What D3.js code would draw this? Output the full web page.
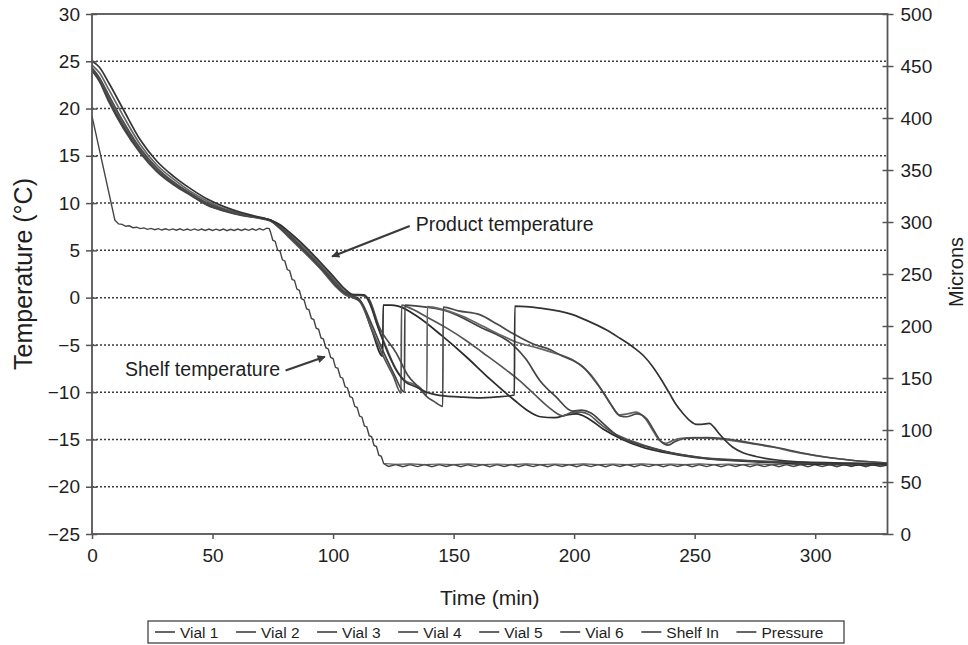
<!DOCTYPE html>
<html><head><meta charset="utf-8">
<script src="https://cdn.jsdelivr.net/npm/d3@7"></script>
<style>
body{margin:0;background:#fff}
text{font-family:"Liberation Sans",Arial,Helvetica,sans-serif;fill:#1e1e1e}
</style>
</head><body>
<svg id="chart" width="968" height="645"></svg>
<script>
// ---------------- DATA ----------------
const timeTicks = [0, 50, 100, 150, 200, 250, 300];
const tempTicks = [-25, -20, -15, -10, -5, 0, 5, 10, 15, 20, 25, 30];
const gridTemps = [-20, -15, -10, -5, 0, 5, 10, 15, 20, 25];
const micronTicks = [0, 50, 100, 150, 200, 250, 300, 350, 400, 450, 500];
const legendNames = ["Vial 1", "Vial 2", "Vial 3", "Vial 4", "Vial 5", "Vial 6", "Shelf In", "Pressure"];

const vial1 = [[0,24.1],[3,23.0],[7,20.9],[13,18.1],[20,15.5],[27,13.4],[34,12.0],[41,10.9],[48,9.8],[55,9.2],[62,8.75],[68,8.5],[74,8.2],[78,7.4],[82,6.4],[86,5.4],[90,4.4],[96,2.8],[101,1.3],[105,0.4],[108,0.1],[110,0.0],[112,-0.6],[116,-3.4],[120.6,-6.2],
  [120.8,-0.8],[124,-0.8],[127,-0.9],[135,-2.0],[145,-4.0],[155,-6.2],[165,-8.6],[175,-10.8],[181,-12.0],[186,-12.6],[192,-12.7],[197,-12.4],[201,-12.3],[206,-12.8],[212,-13.9],[220,-15.0],[228,-15.8],[238,-16.4],[250,-16.9],[270,-17.3],[300,-17.6],[330,-17.7]];
const vial2 = [[0,24.2],[3,23.2],[7,21.1],[13,18.3],[20,15.6],[27,13.5],[34,12.1],[41,10.95],[48,9.9],[55,9.25],[62,8.8],[68,8.5],[74,8.15],[78,7.3],[82,6.3],[86,5.3],[90,4.3],[96,2.7],[101,1.2],[105,0.3],[108,0.0],[111,-0.4],[116,-3.3],[121,-6.3],[125,-8.3],[128.2,-10.1],
  [128.4,-0.8],[131,-1.0],[140,-2.2],[147,-3.2],[155,-4.5],[162,-5.8],[170,-7.3],[177,-8.7],[183,-10.1],[189,-11.5],[195.3,-12.5],[199.4,-12.1],[203,-12.1],[206.4,-12.4],[210.5,-13.3],[216,-14.3],[223,-15.1],[230,-15.7],[240,-16.4],[252,-16.9],[270,-17.2],[300,-17.5],[330,-17.6]];
const vial3 = [[0,24.0],[3,22.9],[7,20.7],[13,17.9],[20,15.3],[27,13.3],[34,11.9],[41,10.8],[48,9.75],[55,9.15],[62,8.7],[68,8.45],[74,8.1],[78,7.35],[82,6.5],[86,5.5],[90,4.5],[96,2.9],[101,1.4],[105,0.5],[108,0.2],[112,-0.6],[116,-2.8],[121,-5.8],[125.5,-8.2],[129.6,-10.0],
  [129.8,-0.8],[135,-0.9],[147,-1.4],[161,-3.1],[174.6,-5.0],[180,-6.5],[185.6,-8.7],[192.5,-10.5],[199.4,-12.0],[203,-11.9],[207,-12.2],[212,-13.3],[218,-14.6],[225,-15.4],[232,-15.9],[242,-16.5],[255,-17.0],[275,-17.3],[300,-17.5],[330,-17.6]];
const vial4 = [[0,24.6],[3,23.8],[7,22.0],[13,19.2],[20,16.2],[27,14.0],[34,12.5],[41,11.2],[48,10.2],[55,9.4],[62,8.9],[68,8.5],[74,8.2],[78,7.6],[82,6.8],[86,5.8],[90,4.8],[96,3.2],[101,1.8],[105,0.8],[108,0.3],[112,0.25],[115,-0.3],[118,-2.6],[122,-5.2],[126,-7.5],[130,-8.8],[133,-9.1],[136,-9.5],[138.9,-10.3],
  [139.1,-0.95],[145,-1.2],[154,-2.0],[162,-3.0],[170,-4.0],[176,-4.7],[183,-5.2],[191,-5.8],[199.4,-6.6],[203,-7.2],[206.4,-8.0],[210,-9.2],[213.3,-10.5],[216,-11.6],[218.8,-12.4],[222,-12.3],[225.7,-12.1],[229.9,-12.9],[233,-14.2],[235.4,-15.1],[238.1,-15.4],[241,-15.1],[243.6,-14.9],[250,-14.8],[257.5,-14.9],[265,-15.1],[275,-15.5],[282.3,-15.8],[293,-16.4],[303,-16.8],[315,-17.2],[330,-17.5]];
const vial5 = [[0,24.3],[3,23.3],[7,21.4],[13,18.6],[20,15.8],[27,13.7],[34,12.2],[41,11.0],[48,10.0],[55,9.3],[62,8.8],[68,8.5],[74,8.2],[78,7.5],[82,6.6],[86,5.6],[90,4.6],[96,3.0],[101,1.6],[105,0.6],[108,0.25],[113,0.2],[115,-0.2],[119,-3.0],[126.3,-5.9],[131,-8.2],[135.9,-9.6],[139,-10.5],[142,-11.0],[145.5,-11.5],
  [145.7,-1.0],[152,-1.4],[160.8,-1.8],[168,-2.8],[174.6,-3.8],[183,-4.9],[190,-5.5],[195.3,-6.2],[200,-6.7],[204,-7.4],[208,-8.6],[212,-10.0],[215,-11.2],[219,-12.5],[222,-12.6],[226,-12.3],[230,-12.8],[233,-14.0],[236,-15.2],[239,-15.6],[242,-15.2],[246,-14.9],[255,-14.8],[262,-14.9],[272,-15.3],[285,-15.9],[300,-16.7],[315,-17.2],[330,-17.5]];
const vial6 = [[0,25.0],[3,24.4],[7,22.7],[13,19.9],[20,16.7],[27,14.4],[34,12.8],[41,11.5],[48,10.4],[55,9.6],[62,9.0],[68,8.6],[74,8.2],[78,7.7],[82,6.9],[86,6.0],[90,5.0],[96,3.4],[101,2.0],[105,0.9],[108,0.35],[113,0.3],[115,-0.5],[119,-3.4],[123,-6.0],[127,-8.0],[130,-8.9],[134,-9.4],[140,-10.1],[146,-10.4],[152,-10.5],[160,-10.6],[168,-10.5],[175.2,-10.3],
  [175.4,-0.9],[185.6,-1.1],[199.4,-1.8],[206,-2.5],[213.3,-3.4],[219,-4.3],[224.3,-5.2],[229,-6.2],[232.6,-7.3],[236,-8.6],[239.5,-10.1],[242,-11.2],[245,-12.2],[248,-13.0],[250.6,-13.4],[253,-13.4],[256.1,-13.3],[258,-13.7],[260.2,-14.4],[265.7,-15.8],[270,-16.4],[275.4,-16.8],[285,-17.2],[296.1,-17.4],[315,-17.5],[330,-17.6]];

const shelfIn = [[0,19.2],[9.5,8.2],[11,7.8],[12.5,7.75],[14,7.55],[15.5,7.6],[17,7.4],[18.5,7.45],[20,7.3],[21.5,7.38],[23,7.22],[24.5,7.32],[26,7.18],[27.5,7.3],[29,7.15],[30.5,7.28],[32,7.14],[33.5,7.27],[35,7.13],[36.5,7.28],[38,7.12],[39.5,7.26],[41,7.12],[42.5,7.27],[44,7.12],[45.5,7.25],[47,7.11],[48.5,7.26],[50,7.1],[51.5,7.24],[53,7.1],[54.5,7.25],[56,7.08],[57.5,7.23],[59,7.1],[60.5,7.25],[62,7.1],[63.5,7.26],[65,7.12],[66.5,7.28],[68,7.12],[69.5,7.3],[71,7.15],[72.5,7.35],[73.5,7.3],
  [74,6.98],[75,6.07],[76,5.95],[77,5.03],[78,4.92],[79,4.0],[80,3.88],[81,2.97],[82,2.85],[83,1.93],[84,1.82],[85,0.9],[86,0.78],[87,-0.13],[88,-0.25],[89,-1.17],[90,-1.28],[91,-2.2],[92,-2.32],[93,-3.23],[94,-3.35],[95,-4.27],[96,-4.38],[97,-5.3],[98,-5.42],[99,-6.33],[100,-6.45],[101,-7.37],[102,-7.48],[103,-8.4],[104,-8.52],[105,-9.43],[106,-9.55],[107,-10.47],[108,-10.58],[109,-11.5],[110,-11.62],[111,-12.53],[112,-12.65],[113,-13.57],[114,-13.68],[115,-14.6],[116,-14.72],[117,-15.63],[118,-15.75],[119,-16.67],[120,-16.78],[121,-17.55],
  [123,-17.85],[126,-17.65],[129,-17.88],[132,-17.66],[135,-17.87],[138,-17.65],[141,-17.88],[144,-17.66],[147,-17.86],[150,-17.65],[153,-17.88],[156,-17.67],[159,-17.87],[162,-17.65],[165,-17.88],[168,-17.66],[171,-17.86],[174,-17.65],[177,-17.88],[180,-17.67],[183,-17.87],[186,-17.65],[189,-17.88],[192,-17.66],[195,-17.86],[198,-17.65],[201,-17.88],[204,-17.67],[207,-17.87],[210,-17.65],[213,-17.88],[216,-17.66],[219,-17.86],[222,-17.65],[225,-17.88],[228,-17.67],[231,-17.87],[234,-17.65],[237,-17.88],[240,-17.66],[243,-17.86],[246,-17.65],[249,-17.88],[252,-17.67],[255,-17.87],[258,-17.65],[261,-17.88],[264,-17.66],[267,-17.86],[270,-17.65],[273,-17.88],[276,-17.67],[279,-17.87],[282,-17.65],[285,-17.88],[288,-17.66],[291,-17.86],[294,-17.65],[297,-17.88],[300,-17.67],[303,-17.87],[306,-17.65],[309,-17.88],[312,-17.66],[315,-17.86],[318,-17.65],[321,-17.88],[324,-17.67],[327,-17.87],[330,-17.7]];

const pressure = [[121,67.8],[126,66.9],[132,67.4],[138,66.7],[144,67.3],[150,66.8],[156,67.4],[162,66.7],[168,67.3],[174,66.8],[180,67.4],[186,66.7],[192,67.3],[198,66.8],[204,67.4],[210,66.7],[216,67.3],[222,66.8],[228,67.4],[234,66.7],[240,67.3],[246,66.8],[252,67.4],[258,66.7],[264,67.3],[270,66.8],[276,67.4],[282,66.7],[288,67.3],[294,66.8],[300,67.4],[306,66.7],[312,67.3],[318,66.8],[324,67.4],[330,67.0]];

const annotations = [
  {label: "Product temperature", textAt: [134.3, 7.1], from: [131.8, 7.57], to: [99.6, 4.35], anchor: "start"},
  {label: "Shelf temperature", textAt: [78.0, -8.3], from: [80.3, -7.7], to: [96.6, -6.25], anchor: "end"}
];

// ---------------- CHART ----------------
const svg = d3.select("#chart");
const L = 92, R = 887.5, T = 14, B = 534;
const x = d3.scaleLinear().domain([0, 330]).range([L, R]);
const y = d3.scaleLinear().domain([-25, 30]).range([B, T]);
const yR = d3.scaleLinear().domain([0, 500]).range([B, T]);

// grid
svg.append("g").selectAll("line").data(gridTemps).join("line")
  .attr("x1", L).attr("x2", R).attr("y1", d => y(d)).attr("y2", d => y(d))
  .attr("stroke", "#3c3c3c").attr("stroke-width", 1.5).attr("stroke-dasharray", "2,2");

svg.append("defs").append("clipPath").attr("id", "clip")
  .append("rect").attr("x", L).attr("y", T).attr("width", R - L).attr("height", B - T);

const lineT = d3.line().x(d => x(d[0])).y(d => y(d[1])).curve(d3.curveMonotoneX);
const lineLin = d3.line().x(d => x(d[0])).y(d => y(d[1]));
const lineP = d3.line().x(d => x(d[0])).y(d => yR(d[1]));

const plot = svg.append("g").attr("clip-path", "url(#clip)");
plot.append("path").datum(shelfIn).attr("d", lineLin).attr("fill", "none").attr("stroke", "#444").attr("stroke-width", 1.4);
plot.append("path").datum(pressure).attr("d", lineP).attr("fill", "none").attr("stroke", "#555").attr("stroke-width", 1.2);
const vials = [vial1, vial2, vial3, vial4, vial5, vial6];
const vialColors = ["#2a2a2a", "#555", "#444", "#666", "#4a4a4a", "#333"];
vials.forEach((v, i) => {
  plot.append("path").datum(v).attr("d", lineT).attr("fill", "none")
    .attr("stroke", vialColors[i]).attr("stroke-width", 1.7).attr("stroke-linejoin", "round");
});

// frame
svg.append("rect").attr("x", L).attr("y", T).attr("width", R - L).attr("height", B - T)
  .attr("fill", "none").attr("stroke", "#555").attr("stroke-width", 1.8);

// axes
const fontTick = 19;
const ax = svg.append("g").attr("transform", `translate(${L},0)`)
  .call(d3.axisLeft(y).tickValues(tempTicks).tickSize(6).tickPadding(6));
ax.select(".domain").remove();
ax.selectAll(".tick line").attr("x1", 5).attr("x2", -6).attr("stroke", "#555").attr("stroke-width", 1.5);
ax.selectAll("text").attr("font-size", fontTick).attr("font-family", "Liberation Sans, Arial, sans-serif").attr("fill", "#1e1e1e");

const axR = svg.append("g").attr("transform", `translate(${R},0)`)
  .call(d3.axisRight(yR).tickValues(micronTicks).tickSize(6).tickPadding(7));
axR.select(".domain").remove();
axR.selectAll(".tick line").attr("x1", -5).attr("x2", 6).attr("stroke", "#555").attr("stroke-width", 1.5);
axR.selectAll("text").attr("font-size", fontTick).attr("font-family", "Liberation Sans, Arial, sans-serif").attr("fill", "#1e1e1e");

const axB = svg.append("g").attr("transform", `translate(0,${B})`)
  .call(d3.axisBottom(x).tickValues(timeTicks).tickSize(5).tickPadding(10));
axB.select(".domain").remove();
axB.selectAll(".tick line").attr("stroke", "#555").attr("stroke-width", 1.5);
axB.selectAll("text").attr("font-size", fontTick).attr("font-family", "Liberation Sans, Arial, sans-serif").attr("fill", "#1e1e1e");

// axis titles
svg.append("text").attr("transform", `translate(32,${(T + B) / 2}) rotate(-90)`)
  .attr("text-anchor", "middle").attr("font-size", 25).text("Temperature (°C)");
svg.append("text").attr("transform", `translate(963,${272}) rotate(-90)`)
  .attr("text-anchor", "middle").attr("font-size", 20).text("Microns");
svg.append("text").attr("x", (L + R) / 2).attr("y", 605)
  .attr("text-anchor", "middle").attr("font-size", 21).text("Time (min)");

// annotations
svg.select("defs").append("marker").attr("id", "ah").attr("viewBox", "0 0 10 10")
  .attr("refX", 9).attr("refY", 5).attr("markerWidth", 11).attr("markerHeight", 8)
  .attr("markerUnits", "userSpaceOnUse").attr("orient", "auto")
  .append("path").attr("d", "M0,0 L10,5 L0,10 z").attr("fill", "#3a3a3a");
annotations.forEach(a => {
  svg.append("line").attr("x1", x(a.from[0])).attr("y1", y(a.from[1]))
    .attr("x2", x(a.to[0])).attr("y2", y(a.to[1]))
    .attr("stroke", "#3a3a3a").attr("stroke-width", 2.2).attr("marker-end", "url(#ah)");
  svg.append("text").attr("x", x(a.textAt[0])).attr("y", y(a.textAt[1]))
    .attr("text-anchor", a.anchor).attr("font-size", 19.5).attr("fill", "#555").text(a.label);
});

// legend
const lg = svg.append("g");
const boxX0 = 148, boxX1 = 844, boxY0 = 621, boxY1 = 643;
lg.append("rect").attr("x", boxX0).attr("y", boxY0).attr("width", boxX1 - boxX0).attr("height", boxY1 - boxY0)
  .attr("fill", "#fff").attr("stroke", "#444").attr("stroke-width", 1.3);
const items = lg.selectAll("g.it").data(legendNames).join("g").attr("class", "it");
items.append("line").attr("stroke", "#333").attr("stroke-width", 1.5);
items.append("text").attr("font-size", 15.5).text(d => d);
const widths = [];
items.select("text").each(function () { widths.push(this.getComputedTextLength()); });
const dash = 20, gap1 = 5;
const natural = d3.sum(widths) + legendNames.length * (dash + gap1);
const spare = (boxX1 - boxX0 - 10 - natural) / legendNames.length;
let cx = boxX0 + 7;
items.each(function (d, i) {
  const g = d3.select(this);
  g.select("line").attr("x1", cx).attr("x2", cx + dash).attr("y1", 632).attr("y2", 632);
  g.select("text").attr("x", cx + dash + gap1).attr("y", 637.5);
  cx += dash + gap1 + widths[i] + spare;
});
</script>
</body></html>
